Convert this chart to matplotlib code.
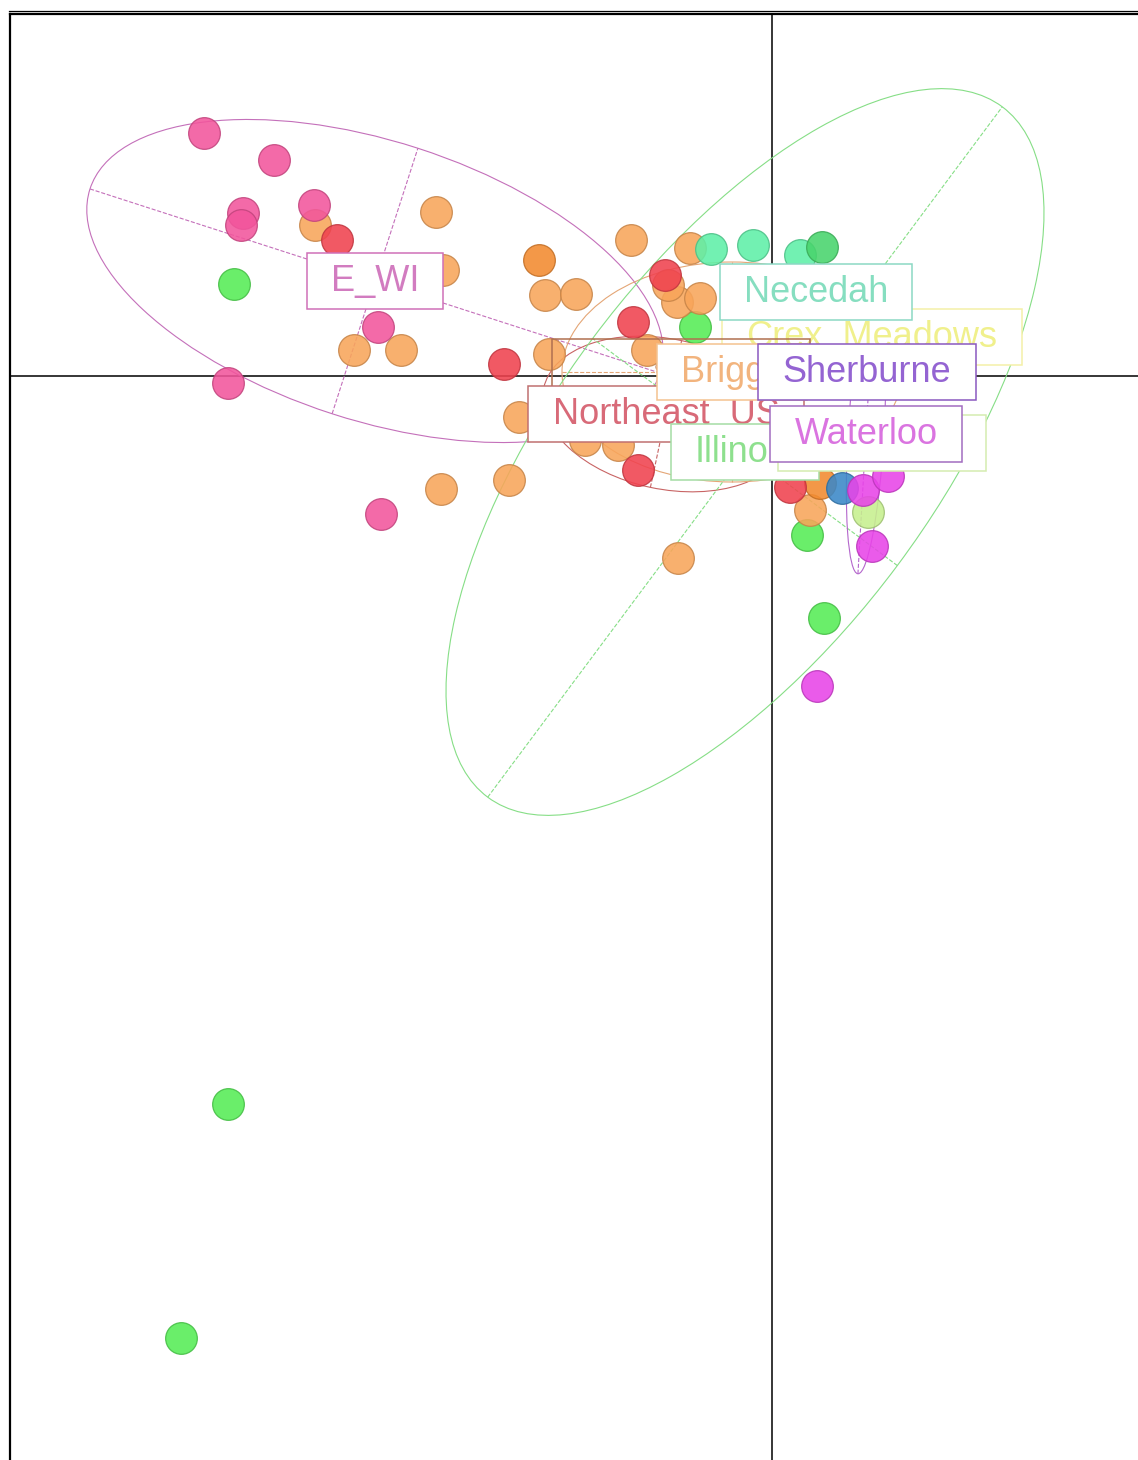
import numpy as np
import matplotlib.pyplot as plt
from matplotlib.patches import Ellipse
from matplotlib.lines import Line2D
from matplotlib import colors as mcolors

plt.rcParams['font.family'] = ['Liberation Sans', 'DejaVu Sans']

# %% sample scores on the first two axes, by population

ewi_x = [-5.68, -4.98, -5.29, -5.31, -4.58, -3.94, -5.44, -3.91]
ewi_y = [2.43, 2.16, 1.63, 1.51, 1.71, 0.49, -0.07, -1.38]

briggs_x = [-3.36, -4.57, -3.29, -2.27, -1.96, -1.41, -4.18, -3.71, -2.23, -2.53,
            -3.31, -2.63, -0.94, -0.82, -0.95, -0.72, -1.25, -1.87, -1.54, 0.38, -1.04]
briggs_y = [1.64, 1.51, 1.06, 0.81, 0.82, 1.36, 0.26, 0.26, 0.22, -0.41,
            -1.13, -1.04, -1.82, 1.28, 0.74, 0.78, 0.26, -0.64, -0.69, -1.34, 0.91]

dark_orange_x = [-2.33, 0.48]
dark_orange_y = [1.16, -1.07]

northeast_x = [-4.35, -1.07, -1.39, -2.68, -1.34, 0.18]
northeast_y = [1.36, 1.01, 0.54, 0.12, -0.94, -1.11]

illinois_x = [-5.38, -5.44, -5.91, 0.35, 0.52, -0.77]
illinois_y = [0.92, -7.28, -9.62, -1.59, -2.42, 0.49]

necedah_x = [-0.61, -0.19, 0.28]
necedah_y = [1.27, 1.31, 1.21]

dark_green_x = [0.50]
dark_green_y = [1.29]

blue_x = [0.70]
blue_y = [-1.12]

lime_x = [0.96]
lime_y = [-1.36]

waterloo_x = [0.91, 1.16, 1.00, 0.45]
waterloo_y = [-1.14, -1.00, -1.70, -3.10]

# %% group centroids and ellipses

pop_names = ['E_WI', 'Crex_Meadows', '', 'Northeast_US', 'Briggs',
             'Illinois', 'Necedah', 'Sherburne', '', 'Waterloo']
pop_cx = [-3.97, 1.00, -0.91, -1.06, -0.40, -0.27, 0.44, 0.95, 1.10, 0.94]
pop_cy = [0.95, 0.39, 0.09, -0.38, 0.04, -0.76, 0.84, 0.04, -0.67, -0.58]
hidden_width = [0, 0, 21, 0, 0, 0, 0, 0, 16, 0]

ell_w = [5.99, 0.6, 0.5, 2.5, 3.4, 8.61, 0.5, 0.6, 0.4, 2.8]
ell_h = [2.79, 0.2, 0.2, 1.5, 2.2, 3.8, 0.2, 0.2, 0.2, 0.36]
ell_angle = [-17.9, 0, 0, -12, 0, 53.3, 0, 0, 0, 86.7]

line_colors = ['#C470BA', '#F2F09E', '#B07050', '#C86464', '#E4A676',
               '#86DE86', '#86D8C0', '#8A58C0', '#D4ECB0', '#B466CC']
text_colors = ['#D27CC0', '#F0F08C', '#B07050', '#D86A78', '#F2B47E',
               '#8EE08E', '#86DEC0', '#9464D2', '#D4ECB0', '#DA74E0']
box_colors = ['#D070B8', '#F4F0A8', '#B07050', '#C07070', '#F4C290',
              '#A4DCA4', '#8CD8C4', '#8A58C0', '#D4ECB0', '#A26CC0']
box_fill = ['white', 'white', 'none', 'white', 'white',
            'white', 'white', 'white', 'white', 'white']

# %% plot

fig = plt.figure(figsize=(11.38, 14.60), dpi=100)
ax = fig.add_axes([9.5 / 1138, 0, 1 - 9.5 / 1138, 1 - 14 / 1460])
ax.set_xlim(-7.625, 3.66)
ax.set_ylim(-10.84, 3.62)
ax.set_xticks([])
ax.set_yticks([])
ax.spines['right'].set_visible(False)
ax.spines['bottom'].set_visible(False)
ax.spines['left'].set_linewidth(1.6)
ax.spines['top'].set_linewidth(1.6)
fig.add_artist(Line2D([9 / 1138, 1], [1 - 10.5 / 1460] * 2, color='black', lw=0.9))

ax.axhline(0, color='black', lw=1.1, zorder=1)
ax.axvline(0, color='black', lw=1.1, zorder=1)

for i in range(len(pop_names)):
    cx, cy = pop_cx[i], pop_cy[i]
    a = np.deg2rad(ell_angle[i])
    ax.add_patch(Ellipse((cx, cy), ell_w[i], ell_h[i], angle=ell_angle[i],
                         fill=False, ec=line_colors[i], lw=0.8, zorder=2))
    dx, dy = ell_w[i] / 2 * np.cos(a), ell_w[i] / 2 * np.sin(a)
    ax.plot([cx - dx, cx + dx], [cy - dy, cy + dy], '--', color=line_colors[i], lw=0.8, zorder=2)
    dx, dy = -ell_h[i] / 2 * np.sin(a), ell_h[i] / 2 * np.cos(a)
    ax.plot([cx - dx, cx + dx], [cy - dy, cy + dy], '--', color=line_colors[i], lw=0.8, zorder=2)

point_sets = [
    (illinois_x, illinois_y, '#55EC55'),
    (briggs_x, briggs_y, '#F8A55A'),
    (dark_orange_x, dark_orange_y, '#F28A2E'),
    (necedah_x, necedah_y, '#5EF0A8'),
    (dark_green_x, dark_green_y, '#48D46C'),
    (ewi_x, ewi_y, '#F2559C'),
    (northeast_x, northeast_y, '#F0424F'),
    (lime_x, lime_y, '#C6F08E'),
    (blue_x, blue_y, '#3A88C8'),
    (waterloo_x, waterloo_y, '#E844E8'),
]
for px, py, col in point_sets:
    edge = np.array(mcolors.to_rgb(col)) * 0.8
    ax.scatter(px, py, s=520, c=col, edgecolors=[edge], linewidths=0.9, alpha=0.88, zorder=3)

# labels in white boxes: wider side margins than top/bottom
for i, name in enumerate(pop_names):
    label = name if name else ' ' * hidden_width[i]
    ax.text(pop_cx[i], pop_cy[i], label, ha='center', va='center', fontsize=26,
            color=text_colors[i], zorder=10 + i,
            bbox=dict(boxstyle='square,pad=0.67', mutation_aspect=0.45,
                      fc=box_fill[i], ec=box_colors[i], lw=1.1))

fig.savefig('out.png', dpi=100)
